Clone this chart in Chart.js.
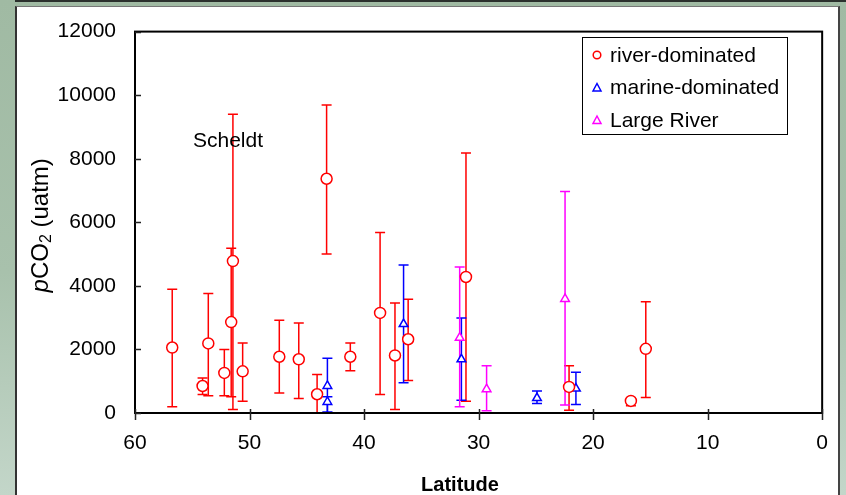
<!DOCTYPE html>
<html><head><meta charset="utf-8">
<script src="https://cdn.jsdelivr.net/npm/chart.js@4"></script>
<style>
html,body{margin:0;padding:0;width:846px;height:495px;overflow:hidden;}
body{background:linear-gradient(to bottom,#a0baa3 0%,#a8c1ac 55%,#c3d6c9 100%);position:relative;}
#topbar{position:absolute;left:15px;top:0;width:831px;height:2px;background:#2b302d;}
#panel{position:absolute;left:15px;top:6px;width:821px;height:495px;background:#fff;border-left:2px solid #333;border-top:1px solid #777;border-right:2px solid #444;}
canvas{position:absolute;left:0;top:0;}
</style></head>
<body><div id="topbar"></div><div id="panel"></div><canvas id="c" width="846" height="495"></canvas>
<script>
// River-dominated estuaries
const riverLat = [56.75, 54.1, 53.6, 52.2, 51.6, 51.45, 50.6, 47.4, 45.7, 44.1, 43.27, 41.2, 38.6, 37.3, 36.15, 31.1, 22.1, 16.7, 15.4];
const riverVal = [2060, 850, 2190, 1260, 2860, 4780, 1310, 1770, 1690, 590, 7370, 1770, 3150, 1810, 2320, 4280, 820, 380, 2020];
const riverHi  = [3890, 1100, 3760, 2000, 5180, 9400, 2200, 2920, 2830, 1210, 9690, 2200, 5680, 3460, 3580, 8180, 1490, 480, 3500];
const riverLo  = [200, 580, 540, 540, 510, 110, 370, 630, 460, 0, 5000, 1330, 580, 110, 1020, 370, 90, 230, 490];
// Marine-dominated estuaries
const marineLat = [43.2, 43.2, 36.55, 31.5, 24.9, 21.5];
const marineVal = [850, 350, 2800, 1690, 470, 770];
const marineHi  = [1720, 510, 4660, 2990, 690, 1280];
const marineLo  = [20, 20, 950, 400, 300, 270];
// Large rivers
const largeLat = [31.65, 29.3, 22.45];
const largeVal = [2370, 750, 3590];
const largeHi  = [4590, 1490, 6970];
const largeLo  = [200, 70, 250];
// Axes
const xTicks = [60, 50, 40, 30, 20, 10, 0];
const yTicks = [0, 2000, 4000, 6000, 8000, 10000, 12000];
const seriesNames = ['river-dominated', 'marine-dominated', 'Large River'];
const annotation = 'Scheldt';

const FONT = '"Liberation Sans", Arial, sans-serif';
const toPts = (xs, ys) => xs.map((v, i) => ({x: v, y: ys[i]}));

const errorSets = [
  {lat: riverLat, hi: riverHi, lo: riverLo, color: '#ff0000'},
  {lat: marineLat, hi: marineHi, lo: marineLo, color: '#0000ff'},
  {lat: largeLat, hi: largeHi, lo: largeLo, color: '#ff00ff'}
];

const framePlugin = {
  id: 'frame',
  beforeDatasetsDraw(chart) {
    const {ctx, chartArea: a, scales: {x, y}} = chart;
    ctx.save();
    ctx.lineWidth = 1.5;
    errorSets.forEach(s => {
      ctx.strokeStyle = s.color;
      s.lat.forEach((v, i) => {
        const px = x.getPixelForValue(v);
        const t = y.getPixelForValue(s.hi[i]);
        const b = y.getPixelForValue(s.lo[i]);
        ctx.beginPath();
        ctx.moveTo(px, t); ctx.lineTo(px, b);
        ctx.moveTo(px - 5, t); ctx.lineTo(px + 5, t);
        ctx.moveTo(px - 5, b); ctx.lineTo(px + 5, b);
        ctx.stroke();
      });
    });
    ctx.strokeStyle = '#000';
    ctx.lineWidth = 2;
    ctx.strokeRect(a.left, a.top, a.right - a.left, a.bottom - a.top);
    ctx.lineWidth = 1.5;
    ctx.strokeStyle = '#222';
    ctx.beginPath();
    xTicks.forEach(t => {
      const px = Math.round(x.getPixelForValue(t)) + 0.5;
      ctx.moveTo(px, a.bottom - 4); ctx.lineTo(px, a.bottom + 7);
    });
    yTicks.forEach(t => {
      const py = Math.round(y.getPixelForValue(t)) + 0.5;
      ctx.moveTo(a.left, py); ctx.lineTo(a.left + 6, py);
    });
    ctx.stroke();
    ctx.restore();
  },
  afterDraw(chart) {
    const {ctx, chartArea: a} = chart;
    ctx.save();
    ctx.fillStyle = '#000';
    ctx.font = 'bold 20px ' + FONT;
    ctx.textAlign = 'center';
    ctx.textBaseline = 'middle';
    ctx.fillText('Latitude', 460, 485);
    ctx.translate(48, (a.top + a.bottom) / 2);
    ctx.rotate(-Math.PI / 2);
    const F = 24;
    const parts = [
      {t: 'p', f: 'italic ' + F + 'px ' + FONT, dy: 0},
      {t: 'CO', f: F + 'px ' + FONT, dy: 0},
      {t: '2', f: Math.round(F * 0.65) + 'px ' + FONT, dy: 3},
      {t: ' (uatm)', f: F + 'px ' + FONT, dy: 0}
    ];
    let total = 0;
    parts.forEach(p => { ctx.font = p.f; p.w = ctx.measureText(p.t).width; total += p.w; });
    let cx = -total / 2 - 3;
    ctx.textAlign = 'left';
    ctx.textBaseline = 'alphabetic';
    parts.forEach(p => { ctx.font = p.f; ctx.fillText(p.t, cx, p.dy); cx += p.w; });
    ctx.restore();

    ctx.save();
    ctx.fillStyle = '#000';
    ctx.font = '21px ' + FONT;
    ctx.textAlign = 'left';
    ctx.textBaseline = 'middle';
    ctx.fillText(annotation, 193, 141);

    const lx = 582, ly = 37, lw = 205, lh = 97;
    ctx.fillStyle = '#fff';
    ctx.fillRect(lx, ly, lw, lh);
    ctx.strokeStyle = '#000';
    ctx.lineWidth = 1;
    ctx.strokeRect(lx + 0.5, ly + 0.5, lw, lh);
    chart.data.datasets.forEach((ds, i) => {
      const cy = 55 + i * 32.5;
      ctx.fillStyle = '#fff';
      ctx.strokeStyle = ds.borderColor;
      ctx.lineWidth = 1.5;
      ctx.beginPath();
      if (ds.pointStyle === 'circle') {
        ctx.arc(597, cy, 3.8, 0, Math.PI * 2);
      } else {
        ctx.moveTo(597, cy - 4); ctx.lineTo(601, cy + 3.5); ctx.lineTo(593, cy + 3.5); ctx.closePath();
      }
      ctx.fill(); ctx.stroke();
      ctx.fillStyle = '#000';
      ctx.font = '21px ' + FONT;
      ctx.fillText(ds.label, 610, cy + 1);
    });
    ctx.restore();
  }
};

const mk = (label, xs, ys, style, color, r) => ({
  label, data: toPts(xs, ys), pointStyle: style, pointRadius: r,
  borderColor: color, backgroundColor: '#fff', pointBorderWidth: 1.5, borderWidth: 1.5,
  pointHoverRadius: r, showLine: false
});

new Chart(document.getElementById('c'), {
  type: 'scatter',
  data: {
    datasets: [
      mk(seriesNames[0], riverLat, riverVal, 'circle', '#ff0000', 5.5),
      mk(seriesNames[1], marineLat, marineVal, 'triangle', '#0000ff', 5),
      mk(seriesNames[2], largeLat, largeVal, 'triangle', '#ff00ff', 5)
    ]
  },
  options: {
    responsive: false,
    animation: false,
    devicePixelRatio: 1,
    layout: {padding: {top: 26, right: 20, bottom: 0, left: 0}},
    plugins: {legend: {display: false}, tooltip: {enabled: false}, title: {display: false}},
    scales: {
      x: {
        type: 'linear', reverse: true, min: 0, max: 60,
        afterFit: s => { s.height = 82; },
        afterBuildTicks: s => { s.ticks = xTicks.map(v => ({value: v})); },
        grid: {display: false, drawTicks: false},
        border: {display: false},
        ticks: {color: '#000', font: {family: FONT, size: 21}, padding: 18, maxRotation: 0, callback: v => String(v)}
      },
      y: {
        type: 'linear', min: 0, max: 12000,
        afterFit: s => { s.width = 135; },
        afterBuildTicks: s => { s.ticks = yTicks.map(v => ({value: v})); },
        grid: {display: false, drawTicks: false},
        border: {display: false},
        ticks: {color: '#000', font: {family: FONT, size: 21}, padding: 19, callback: v => String(v)}
      }
    }
  },
  plugins: [framePlugin]
});
</script>
</body></html>
